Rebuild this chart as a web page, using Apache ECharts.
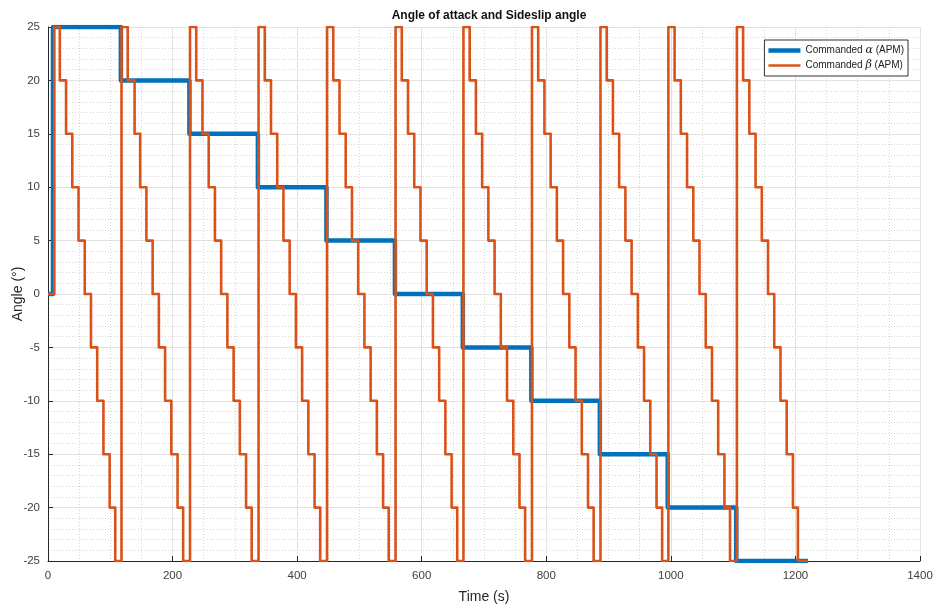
<!DOCTYPE html>
<html>
<head>
<meta charset="utf-8">
<title>Angle of attack and Sideslip angle</title>
<script src="https://cdn.jsdelivr.net/npm/echarts@6/dist/echarts.min.js"></script>
<style>
	html, body { margin: 0; padding: 0; background: #fff; }
	#chart { width: 937px; height: 608px; }
</style>
</head>
<body>
<div id="chart"></div>
<script>
// commanded alpha: time where each level starts, and the level
var alphaTime = [0, 8, 117, 227, 337, 447, 557, 666, 776, 886, 995, 1105, 1220];
var alphaValue = [0, 25, 20, 15, 10, 5, 0, -5, -10, -15, -20, -25, -25];

// commanded beta: one sweep per alpha level, each sweep walks these levels
var betaLevels = [25, 20, 15, 10, 5, 0, -5, -10, -15, -20, -25];
var betaSweepTimes = [
	[10, 19, 29, 39, 49, 59, 69, 79, 89, 99, 108],
	[118, 128, 139, 148, 158, 168, 178, 188, 198, 208, 217],
	[228, 238, 248, 258, 268, 278, 288, 298, 308, 318, 327],
	[338, 348, 358, 368, 378, 388, 398, 408, 418, 428, 437],
	[448, 458, 468, 478, 488, 498, 508, 518, 528, 538, 547],
	[558, 568, 578, 588, 598, 608, 618, 628, 638, 648, 657],
	[667, 677, 687, 697, 707, 717, 727, 737, 747, 757, 766],
	[777, 787, 797, 807, 817, 827, 837, 847, 857, 867, 876],
	[887, 897, 907, 917, 927, 937, 947, 957, 967, 977, 986],
	[996, 1006, 1016, 1026, 1036, 1046, 1056, 1066, 1076, 1086, 1095],
	[1106, 1116, 1126, 1136, 1146, 1156, 1166, 1176, 1186, 1196, 1204]
];
var betaEnd = [1220, -25];

var xTicks = [0, 200, 400, 600, 800, 1000, 1200, 1400];
var yTicks = [-25, -20, -15, -10, -5, 0, 5, 10, 15, 20, 25];

var legendArray = ['Commanded α (APM)', 'Commanded β (APM)'];

var fontName = '"Liberation Sans", Arial, sans-serif';

function alphaData() {
	var out = [];
	for (var i = 0; i < alphaTime.length; i++) {
		out.push([alphaTime[i], alphaValue[i]]);
	}
	return out;
}

function betaData() {
	var out = [[0, 0]];
	for (var s = 0; s < betaSweepTimes.length; s++) {
		for (var k = 0; k < betaLevels.length; k++) {
			out.push([betaSweepTimes[s][k], betaLevels[k]]);
		}
	}
	out.push(betaEnd);
	return out;
}

function legendLabel(name) {
	var greek = name.indexOf('α') >= 0 ? 'α' : 'β';
	return '{t|Commanded }{g|' + greek + '}{t| (APM)}';
}

var chart = echarts.init(document.getElementById('chart'), null, { renderer: 'canvas' });

var axisCommon = {
	axisLine: { show: true, onZero: false, lineStyle: { color: '#262626', width: 1 } },
	axisTick: { show: true, inside: true, length: 5, lineStyle: { color: '#262626' } },
	axisLabel: { color: '#404040', fontSize: 11.5, fontFamily: fontName, formatter: function (v) { return String(v); } },
	splitLine: { show: true, lineStyle: { color: '#e2e2e2', width: 1 } },
	minorSplitLine: { show: true, lineStyle: { color: '#d4d4d4', width: 1, type: [1, 2] } },
	nameTextStyle: { color: '#262626', fontSize: 14, fontFamily: fontName }
};

var option = {
	animation: false,
	backgroundColor: '#ffffff',
	title: {
		text: 'Angle of attack and Sideslip angle',
		left: 484,
		top: 5,
		textAlign: 'center',
		textStyle: { fontSize: 12, fontWeight: 'bold', color: '#111', fontFamily: fontName }
	},
	legend: {
		orient: 'vertical',
		right: 29,
		top: 40,
		padding: [5, 4, 5, 4],
		itemGap: 4,
		itemWidth: 32,
		itemHeight: 10,
		backgroundColor: '#ffffff',
		borderColor: '#333333',
		borderWidth: 1,
		borderRadius: 0,
		data: [
			{ name: legendArray[0], icon: 'path://M0,0H32V4.5H0Z' },
			{ name: legendArray[1], icon: 'path://M0,0H32V2.6H0Z' }
		],
		formatter: legendLabel,
		textStyle: {
			color: '#222',
			fontSize: 10,
			fontFamily: fontName,
			rich: {
				t: { fontSize: 10, color: '#222', fontFamily: fontName },
				g: { fontSize: 11, color: '#222', fontStyle: 'italic', fontFamily: '"DejaVu Serif", "Liberation Serif", serif' }
			}
		}
	},
	grid: {
		left: 48,
		right: 17,
		top: 27,
		bottom: 47,
		containLabel: false,
		outerBoundsMode: 'none'
	},
	xAxis: Object.assign({}, axisCommon, {
		type: 'value',
		min: xTicks[0],
		max: xTicks[xTicks.length - 1],
		interval: xTicks[1] - xTicks[0],
		name: 'Time (s)',
		nameLocation: 'middle',
		nameGap: 29,
		minorTick: { show: false, splitNumber: 4 },
		axisLabel: Object.assign({}, axisCommon.axisLabel, { margin: 9 })
	}),
	yAxis: Object.assign({}, axisCommon, {
		type: 'value',
		min: yTicks[0],
		max: yTicks[yTicks.length - 1],
		interval: yTicks[1] - yTicks[0],
		name: 'Angle (°)',
		nameLocation: 'middle',
		nameGap: 23,
		nameMoveOverlap: false,
		minorTick: { show: false, splitNumber: 5 },
		axisLabel: Object.assign({}, axisCommon.axisLabel, { margin: 8 })
	}),
	series: [{
		name: legendArray[0],
		type: 'line',
		step: 'end',
		symbol: 'none',
		data: alphaData(),
		lineStyle: { color: '#0072BD', width: 4.5, join: 'round' },
		itemStyle: { color: '#0072BD' },
		z: 2
	}, {
		name: legendArray[1],
		type: 'line',
		step: 'end',
		symbol: 'none',
		data: betaData(),
		lineStyle: { color: '#D95319', width: 2.6, join: 'round' },
		itemStyle: { color: '#D95319' },
		z: 3
	}]
};

chart.setOption(option);
</script>
</body>
</html>
